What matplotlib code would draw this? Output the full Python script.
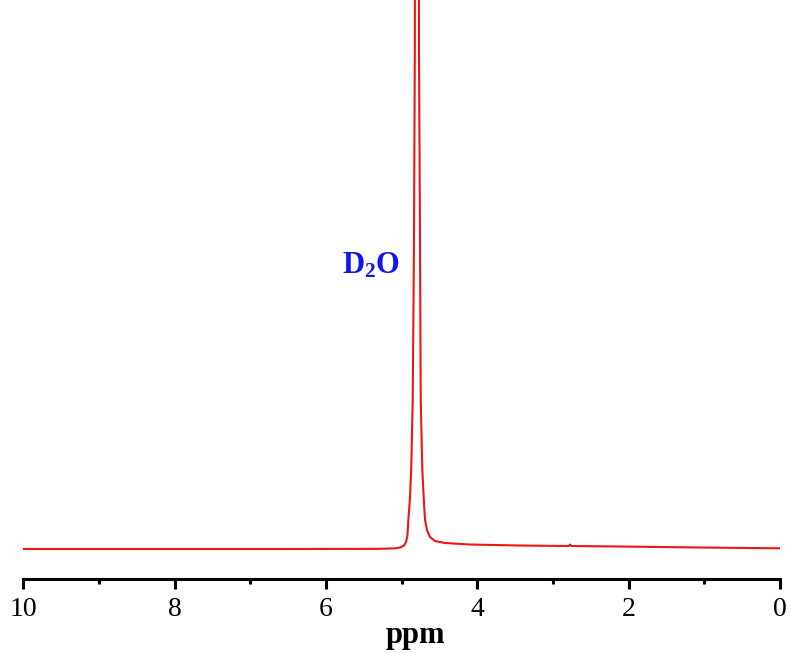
import matplotlib
matplotlib.use("Agg")
import matplotlib.pyplot as plt
from matplotlib.ticker import MultipleLocator

plt.rcParams['font.family'] = ['Liberation Serif', 'DejaVu Serif']
plt.rcParams['mathtext.fontset'] = 'custom'
plt.rcParams['mathtext.rm'] = 'Liberation Serif'
plt.rcParams['mathtext.bf'] = 'Liberation Serif:bold'
plt.rcParams['mathtext.it'] = 'Liberation Serif:italic'

# 1H NMR spectrum (chemical shift in ppm, intensity in arb. units)
ppm = [10.00, 6.34, 5.29, 5.088, 5.022, 4.969, 4.942, 4.923, 4.912, 4.892,
       4.874, 4.854, 4.838, 4.826, 4.8194, 4.8132, 4.8087, 4.798, 4.7873,
       4.7828, 4.7766, 4.771, 4.757, 4.748, 4.727, 4.707,
       4.691, 4.665, 4.626, 4.560, 4.427, 4.097, 3.436, 2.790, 2.775, 2.760,
       2.11, 1.06, 0.00]
intensity = [0.00, 0.00, 0.02, 0.07, 0.15, 0.35, 0.70, 1.40, 2.90, 4.90,
             7.90, 14.9, 29.9, 49.9, 100.0, 200.0, 400.0, 800.0, 400.0,
             200.0, 100.0, 49.9, 29.9, 14.9, 7.90, 4.90,
             2.90, 1.90, 1.20, 0.80, 0.60, 0.45, 0.35, 0.30, 0.45, 0.30,
             0.25, 0.15, 0.07]

major_ticks = [10, 8, 6, 4, 2, 0]
peak_label = r'$\mathbf{D_2O}$'
peak_label_pos = (5.40, 27.6)

fig = plt.figure(figsize=(7.91, 6.53), dpi=100)
ax = fig.add_axes([0.0295, 0.1133, 0.9566, 0.8867])

ax.plot(ppm, intensity, color='#ee1515', linewidth=1.5)
ax.text(peak_label_pos[0], peak_label_pos[1], peak_label, color='#1414f0',
        fontsize=22, ha='center', va='baseline')

ax.set_xlim(10, 0)
ax.set_ylim(-3.0, 54.9)

for side in ['top', 'left', 'right']:
    ax.spines[side].set_visible(False)
ax.spines['bottom'].set_linewidth(2.2)
ax.set_yticks([])

ax.set_xticks(major_ticks)
ax.set_xticklabels([str(t) for t in major_ticks])
ax.xaxis.set_minor_locator(MultipleLocator(1))
ax.tick_params(axis='x', which='major', direction='out', length=7, width=2.2,
               labelsize=20, pad=6)
ax.tick_params(axis='x', which='minor', direction='out', length=3.5, width=2.2)

ax.set_xlabel('ppm', fontsize=22, fontweight='bold')
ax.xaxis.set_label_coords(0.518, -0.072)

fig.savefig('out.png', dpi=100)
